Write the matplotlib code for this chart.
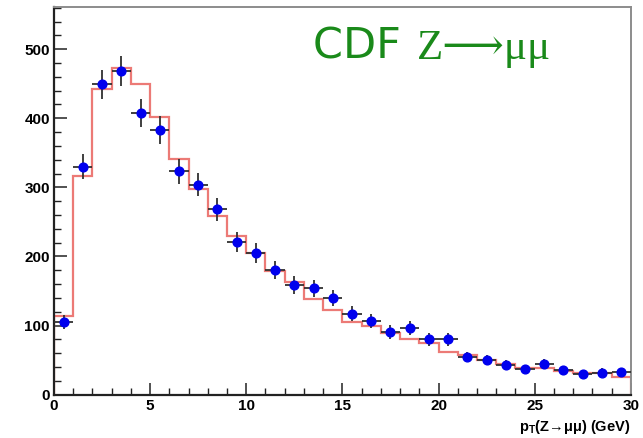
import numpy as np
import matplotlib
matplotlib.use("Agg")
import matplotlib.pyplot as plt
from matplotlib.ticker import MultipleLocator

# pT(Z->mumu) spectrum, 1 GeV bins from 0 to 30
bin_edges = np.arange(0, 31, 1)
bin_centers = np.arange(0.5, 30, 1)

# measured counts (points) and their Poisson errors
data_counts = [105, 330, 449, 468, 408, 383, 323, 304, 268, 221,
               205, 180, 158, 154, 140, 117, 106, 91, 97, 80,
               80, 55, 50, 43, 37, 44, 35, 30, 32, 33]
data_errors = [10, 18, 21, 22, 20, 20, 18, 17, 16, 15,
               14, 13, 13, 12, 12, 11, 10, 10, 10, 9,
               9, 7, 7, 7, 6, 7, 6, 5, 6, 6]

# prediction histogram
mc_counts = [114, 317, 443, 473, 450, 402, 341, 297, 259, 230,
             205, 179, 163, 139, 122, 105, 100, 89, 81, 75,
             62, 58, 50, 45, 39, 38, 34, 31, 31, 25]

x_ticks = [0, 5, 10, 15, 20, 25, 30]
y_ticks = [0, 100, 200, 300, 400, 500]

fig = plt.figure(figsize=(6.43, 4.38), dpi=100)
ax = fig.add_axes([0.084, 0.099, 0.897, 0.885])

ax.stairs(mc_counts, bin_edges, color="#ec7a76", lw=1.6, zorder=2)
ax.errorbar(bin_centers, data_counts, xerr=0.5, yerr=data_errors,
            fmt="o", color="#0000ee", ms=6.3, ecolor="#303030",
            elinewidth=1.3, capsize=0, zorder=3)

ax.set_xlim(0, 30)
ax.set_ylim(0, 561)
ax.set_xticks(x_ticks)
ax.set_yticks(y_ticks)
ax.xaxis.set_minor_locator(MultipleLocator(1))
ax.yaxis.set_minor_locator(MultipleLocator(20))

lbl_font = dict(family="Liberation Sans", weight="bold", size=11)
ax.set_xticklabels([str(v) for v in x_ticks], **lbl_font)
ax.set_yticklabels([str(v) for v in y_ticks], **lbl_font)
ax.tick_params(which="major", direction="in", length=9, width=1.1,
               color="#222222", pad=3)
ax.tick_params(which="minor", direction="in", length=5, width=1.0,
               color="#222222")
ax.tick_params(axis="x", which="major", pad=3)

for side in ("left", "bottom"):
    ax.spines[side].set_color("#222222")
    ax.spines[side].set_linewidth(1.6)
for side in ("top", "right"):
    ax.spines[side].set_color("#8c8c8c")
    ax.spines[side].set_linewidth(1.4)

fig.text(0.981, 0.024, "p$_\\mathregular{T}$(Z\u2192\u03bc\u03bc) (GeV)",
         ha="right", va="center", family="Liberation Sans",
         weight="bold", size=10.5)

# experiment label: sans "CDF" followed by serif "Z⟶μμ"
green = "#1a8a1a"
t1 = ax.text(0.449, 0.866, "CDF ", transform=ax.transAxes, color=green,
             family=["DejaVu Sans"], size=31, va="baseline")
fig.canvas.draw()
bb = t1.get_window_extent().transformed(ax.transAxes.inverted())
ax.text(bb.x1 + 0.004, 0.866, "Z\u27f6\u03bc\u03bc", transform=ax.transAxes,
        color=green, family=["Liberation Serif", "DejaVu Serif", "DejaVu Sans"],
        size=31, va="baseline")

fig.savefig("out.png", dpi=100)
